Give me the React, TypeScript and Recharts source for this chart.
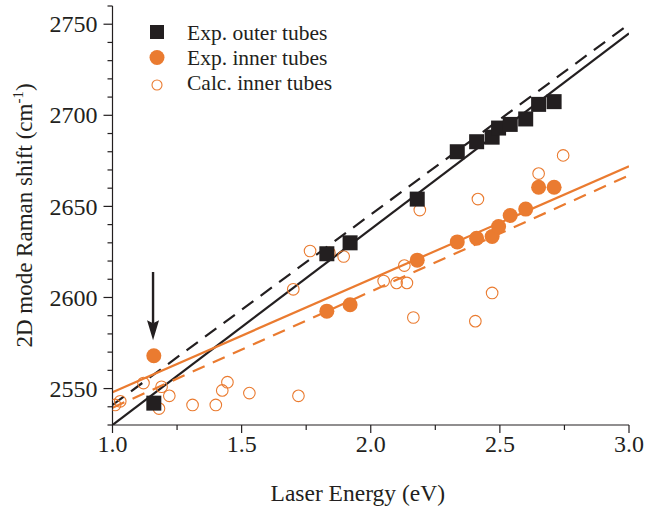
import React from 'react'
import { ComposedChart, Scatter, Line, XAxis, YAxis, ReferenceLine, Legend } from 'recharts'

const INK = '#231f20'
const ORANGE = '#ea7b30'
const FONT = '"Liberation Serif", "DejaVu Serif", "Times New Roman", serif'

// e = laser energy (eV), v = 2D mode Raman shift (cm-1)
const outerExp = [
  { e: 1.16, v: 2542 },
  { e: 1.83, v: 2624 },
  { e: 1.92, v: 2630 },
  { e: 2.18, v: 2654 },
  { e: 2.335, v: 2680 },
  { e: 2.41, v: 2685.5 },
  { e: 2.47, v: 2688 },
  { e: 2.495, v: 2693 },
  { e: 2.54, v: 2695 },
  { e: 2.6, v: 2698 },
  { e: 2.65, v: 2706 },
  { e: 2.71, v: 2707.5 },
]

const innerExp = [
  { e: 1.16, v: 2568 },
  { e: 1.83, v: 2592.5 },
  { e: 1.92, v: 2596 },
  { e: 2.18, v: 2620.5 },
  { e: 2.335, v: 2630.5 },
  { e: 2.41, v: 2632.5 },
  { e: 2.47, v: 2633.5 },
  { e: 2.495, v: 2639 },
  { e: 2.54, v: 2645 },
  { e: 2.6, v: 2648.5 },
  { e: 2.65, v: 2660.5 },
  { e: 2.71, v: 2660.5 },
]

const innerCalc = [
  { e: 1.01, v: 2541 },
  { e: 1.03, v: 2543 },
  { e: 1.12, v: 2553 },
  { e: 1.18, v: 2539 },
  { e: 1.19, v: 2551 },
  { e: 1.22, v: 2546 },
  { e: 1.31, v: 2541 },
  { e: 1.4, v: 2541 },
  { e: 1.425, v: 2549 },
  { e: 1.445, v: 2553.5 },
  { e: 1.53, v: 2547.5 },
  { e: 1.7, v: 2604.5 },
  { e: 1.72, v: 2546 },
  { e: 1.765, v: 2625.5 },
  { e: 1.84, v: 2624.5 },
  { e: 1.895, v: 2622.5 },
  { e: 2.05, v: 2609 },
  { e: 2.1, v: 2608 },
  { e: 2.13, v: 2617.5 },
  { e: 2.14, v: 2608 },
  { e: 2.165, v: 2589 },
  { e: 2.19, v: 2648 },
  { e: 2.405, v: 2587 },
  { e: 2.415, v: 2654 },
  { e: 2.47, v: 2602.5 },
  { e: 2.65, v: 2668 },
  { e: 2.745, v: 2678 },
]

// linear fits
const outerFit = [{ e: 1, v: 2530 }, { e: 3, v: 2745 }]
const outerFitCalc = [{ e: 1, v: 2541 }, { e: 3, v: 2750 }]
const innerFit = [{ e: 1, v: 2548 }, { e: 3, v: 2672 }]
const innerFitCalc = [{ e: 1, v: 2539.5 }, { e: 3, v: 2667 }]

// arrow pointing at the 1.16 eV inner tube point
const arrowSegment = [{ x: 1.157, y: 2614 }, { x: 1.157, y: 2576.5 }]

const xTicks = [1, 1.25, 1.5, 1.75, 2, 2.25, 2.5, 2.75, 3]
const xMajor = [1, 1.5, 2, 2.5, 3]
const yTicks = [
  2530, 2540, 2550, 2560, 2570, 2580, 2590, 2600, 2610, 2620, 2630, 2640,
  2650, 2660, 2670, 2680, 2690, 2700, 2710, 2720, 2730, 2740, 2750, 2760,
]
const yMajor = [2550, 2600, 2650, 2700, 2750]

type Side = 'left' | 'right' | 'top' | 'bottom'

function makeTick(side: Side, majors: number[], showLabel: boolean) {
  return (props: any) => {
    const { x, y, payload } = props
    const v = payload.value
    const major = majors.includes(v)
    let line
    let label = null
    if (side === 'left') {
      const len = major ? 9 : 5
      line = <line x1={x} y1={y} x2={x - len} y2={y} stroke={INK} strokeWidth={1.2} />
      if (showLabel && major)
        label = (
          <text x={x - 15} y={y} dy="0.34em" textAnchor="end" fontSize={24} fontFamily={FONT} fill={INK}>
            {v}
          </text>
        )
    } else if (side === 'bottom') {
      const len = major ? 8 : 5
      line = <line x1={x} y1={y} x2={x} y2={y + len} stroke={INK} strokeWidth={1.2} />
      if (showLabel && major)
        label = (
          <text x={x} y={y + 27} textAnchor="middle" fontSize={24} fontFamily={FONT} fill={INK}>
            {v.toFixed(1)}
          </text>
        )
    } else if (side === 'top') {
      const len = major ? 6 : 4
      line = <line x1={x} y1={y} x2={x} y2={y + len} stroke={INK} strokeWidth={1.2} />
    } else {
      const len = major ? 6 : 4
      line = <line x1={x} y1={y} x2={x - len} y2={y} stroke={INK} strokeWidth={1.2} />
    }
    return (
      <g>
        {line}
        {label}
      </g>
    )
  }
}

const Square = (p: any) => <rect x={p.cx - 7.5} y={p.cy - 7.5} width={15} height={15} fill={INK} />
const Dot = (p: any) => <circle cx={p.cx} cy={p.cy} r={7.5} fill={ORANGE} />
const Ring = (p: any) => <circle cx={p.cx} cy={p.cy} r={5.8} fill="none" stroke={ORANGE} strokeWidth={1.1} />

const Arrow = (p: any) => {
  const { x1, y1, x2, y2 } = p
  const head = 20
  return (
    <g>
      <line x1={x1} y1={y1} x2={x2} y2={y2 - head + 3} stroke={INK} strokeWidth={2.4} />
      <path d={`M${x2 - 6},${y2 - head} L${x2},${y2 - head + 3} L${x2 + 6},${y2 - head} L${x2},${y2} Z`} fill={INK} />
    </g>
  )
}

const XLabel = (p: any) => {
  const vb = p.viewBox
  return (
    <text x={vb.x + vb.width / 2 - 13} y={vb.y + 76} textAnchor="middle" fontSize={23.5} fontFamily={FONT} fill={INK}>
      Laser Energy (eV)
    </text>
  )
}

const YLabel = (p: any) => {
  const vb = p.viewBox
  const cx = 32
  const cy = vb.y + vb.height / 2
  return (
    <text x={cx} y={cy} transform={`rotate(-90 ${cx} ${cy})`} textAnchor="middle" fontSize={23} fontFamily={FONT} fill={INK}>
      2D mode Raman shift (cm
      <tspan dy={-9} fontSize={15}>-1</tspan>
      <tspan dy={9}>)</tspan>
    </text>
  )
}

const legendRows = [
  { name: 'Exp. outer tubes', mark: <rect x={3} y={6} width={14} height={14} fill={INK} />, y: 21 },
  { name: 'Exp. inner tubes', mark: <circle cx={10} cy={38.5} r={7.5} fill={ORANGE} />, y: 46 },
  { name: 'Calc. inner tubes', mark: <circle cx={10} cy={66} r={5} fill="none" stroke={ORANGE} strokeWidth={1.1} />, y: 71 },
]

const LegendBox = () => (
  <svg width={200} height={80} style={{ display: 'block' }}>
    {legendRows.map((r) => (
      <g key={r.name}>
        {r.mark}
        <text x={40} y={r.y} fontSize={21.5} fontFamily={FONT} fill={INK}>
          {r.name}
        </text>
      </g>
    ))}
  </svg>
)

export default function App() {
  return (
    <div style={{ position: 'absolute', left: 0, top: 0, background: '#fff' }}>
      <ComposedChart width={647} height={510} margin={{ top: 6, right: 18, bottom: 0, left: 0 }}>
        <XAxis
          xAxisId="b"
          dataKey="e"
          type="number"
          domain={[1, 3]}
          allowDataOverflow
          ticks={xTicks}
          interval={0}
          height={85}
          tickSize={0}
          tickMargin={0}
          tickLine={false}
          axisLine={{ stroke: INK, strokeWidth: 1.2 }}
          tick={makeTick('bottom', xMajor, true)}
          label={<XLabel />}
        />
        <XAxis
          xAxisId="t"
          dataKey="e"
          type="number"
          orientation="top"
          domain={[1, 3]}
          allowDataOverflow
          ticks={xTicks}
          interval={0}
          height={0}
          tickSize={0}
          tickMargin={0}
          tickLine={false}
          axisLine={{ stroke: INK, strokeWidth: 1.2 }}
          tick={makeTick('top', xMajor, false)}
        />
        <YAxis
          yAxisId="l"
          dataKey="v"
          type="number"
          domain={[2530, 2760]}
          allowDataOverflow
          ticks={yTicks}
          interval={0}
          width={112.5}
          tickSize={0}
          tickMargin={0}
          tickLine={false}
          axisLine={{ stroke: INK, strokeWidth: 1.2 }}
          tick={makeTick('left', yMajor, true)}
          label={<YLabel />}
        />
        <YAxis
          yAxisId="r"
          dataKey="v"
          type="number"
          orientation="right"
          domain={[2530, 2760]}
          allowDataOverflow
          ticks={yTicks}
          interval={0}
          width={0}
          tickSize={0}
          tickMargin={0}
          tickLine={false}
          axisLine={{ stroke: INK, strokeWidth: 1.2 }}
          tick={makeTick('right', yMajor, false)}
        />
        <Line data={outerFit} dataKey="v" xAxisId="b" yAxisId="l" type="linear" stroke={INK} strokeWidth={2.2} dot={false} isAnimationActive={false} />
        <Line data={outerFitCalc} dataKey="v" xAxisId="b" yAxisId="l" type="linear" stroke={INK} strokeWidth={2.2} strokeDasharray="14 9" dot={false} isAnimationActive={false} />
        <Line data={innerFit} dataKey="v" xAxisId="b" yAxisId="l" type="linear" stroke={ORANGE} strokeWidth={2.2} dot={false} isAnimationActive={false} />
        <Line data={innerFitCalc} dataKey="v" xAxisId="b" yAxisId="l" type="linear" stroke={ORANGE} strokeWidth={2.2} strokeDasharray="13 9" dot={false} isAnimationActive={false} />
        <Scatter name="Calc. inner tubes" data={innerCalc} xAxisId="b" yAxisId="l" shape={Ring} isAnimationActive={false} />
        <Scatter name="Exp. inner tubes" data={innerExp} xAxisId="b" yAxisId="l" shape={Dot} isAnimationActive={false} />
        <Scatter name="Exp. outer tubes" data={outerExp} xAxisId="b" yAxisId="l" shape={Square} isAnimationActive={false} />
        <ReferenceLine segment={arrowSegment} xAxisId="b" yAxisId="l" shape={Arrow} />
        <Legend
          layout="vertical"
          align="center"
          verticalAlign="middle"
          content={<LegendBox />}
          wrapperStyle={{ left: 147, top: 19, width: 200, height: 80 }}
        />
      </ComposedChart>
    </div>
  )
}
